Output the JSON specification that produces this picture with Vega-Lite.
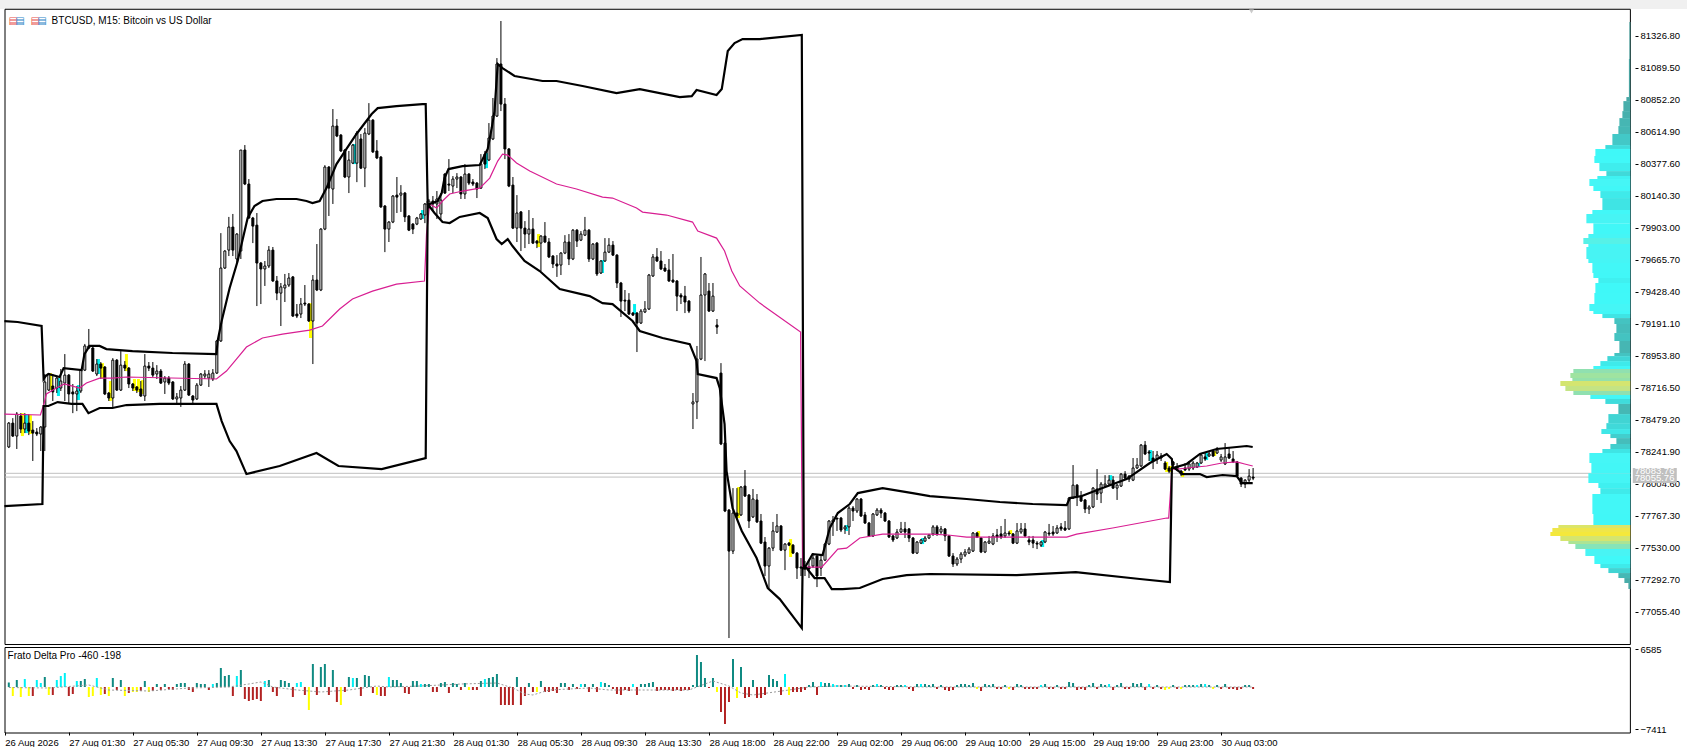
{"$schema":"https://vega.github.io/schema/vega-lite/v6.json","background":"#f0f0f0","width":1687,"height":747,"autosize":{"type":"fit","contains":"padding"},"padding":{"left":0,"top":8,"right":-5,"bottom":0},"config":{"view":{"stroke":null,"fill":"#ffffff"},"axis":{"labelFont":"Liberation Sans","labelFontSize":9.5,"labelColor":"#000000","tickColor":"#000000","title":null,"grid":false,"domain":false}},
"datasets":{
"candles":[
{"i":0,"o":78279,"h":78464,"l":78271,"c":78456},{"i":1,"o":78456,"h":78493,"l":78353,"c":78360},{"i":2,"o":78360,"h":78538,"l":78264,"c":78523},{"i":3,"o":78508,"h":78530,"l":78382,"c":78412},{"i":4,"o":78412,"h":78530,"l":78382,"c":78456},{"i":5,"o":78456,"h":78523,"l":78367,"c":78397},{"i":6,"o":78404,"h":78471,"l":78175,"c":78382},{"i":7,"o":78390,"h":78419,"l":78360,"c":78375},{"i":8,"o":78375,"h":78434,"l":78249,"c":78427},{"i":9,"o":78427,"h":78820,"l":78249,"c":78761},
{"i":10,"o":78701,"h":78827,"l":78694,"c":78820},{"i":11,"o":78731,"h":78820,"l":78620,"c":78687},{"i":12,"o":78716,"h":78798,"l":78679,"c":78790},{"i":13,"o":78716,"h":78857,"l":78694,"c":78768},{"i":14,"o":78753,"h":78968,"l":78620,"c":78812},{"i":15,"o":78812,"h":78820,"l":78605,"c":78672},{"i":16,"o":78687,"h":78746,"l":78530,"c":78672},{"i":17,"o":78672,"h":78731,"l":78545,"c":78694},{"i":18,"o":78694,"h":78857,"l":78679,"c":78849},{"i":19,"o":78849,"h":79043,"l":78842,"c":79028},
{"i":20,"o":79013,"h":79154,"l":79006,"c":79028},{"i":21,"o":79013,"h":79028,"l":78835,"c":78842},{"i":22,"o":78820,"h":78931,"l":78805,"c":78894},{"i":23,"o":78894,"h":78909,"l":78783,"c":78864},{"i":24,"o":78872,"h":78879,"l":78664,"c":78672},{"i":25,"o":78679,"h":78687,"l":78620,"c":78642},{"i":26,"o":78642,"h":78938,"l":78576,"c":78923},{"i":27,"o":78923,"h":78931,"l":78694,"c":78701},{"i":28,"o":78701,"h":78990,"l":78694,"c":78886},{"i":29,"o":78886,"h":78916,"l":78842,"c":78864},
{"i":30,"o":78864,"h":78872,"l":78716,"c":78746},{"i":31,"o":78746,"h":78753,"l":78694,"c":78716},{"i":32,"o":78724,"h":78731,"l":78679,"c":78701},{"i":33,"o":78709,"h":78768,"l":78650,"c":78657},{"i":34,"o":78657,"h":78968,"l":78620,"c":78879},{"i":35,"o":78879,"h":78909,"l":78842,"c":78864},{"i":36,"o":78864,"h":78909,"l":78798,"c":78812},{"i":37,"o":78820,"h":78886,"l":78783,"c":78842},{"i":38,"o":78842,"h":78857,"l":78746,"c":78753},{"i":39,"o":78761,"h":78805,"l":78672,"c":78790},
{"i":40,"o":78790,"h":78805,"l":78738,"c":78753},{"i":41,"o":78761,"h":78768,"l":78627,"c":78635},{"i":42,"o":78635,"h":78679,"l":78598,"c":78650},{"i":43,"o":78642,"h":78731,"l":78576,"c":78701},{"i":44,"o":78701,"h":78916,"l":78694,"c":78894},{"i":45,"o":78894,"h":78901,"l":78657,"c":78664},{"i":46,"o":78657,"h":78664,"l":78590,"c":78627},{"i":47,"o":78635,"h":78753,"l":78627,"c":78738},{"i":48,"o":78738,"h":78827,"l":78731,"c":78820},{"i":49,"o":78805,"h":78849,"l":78783,"c":78820},
{"i":50,"o":78790,"h":78849,"l":78724,"c":78820},{"i":51,"o":78783,"h":78857,"l":78768,"c":78827},{"i":52,"o":78827,"h":79072,"l":78820,"c":79065},{"i":53,"o":79065,"h":79865,"l":79058,"c":79606},{"i":54,"o":79606,"h":79739,"l":79599,"c":79732},{"i":55,"o":79739,"h":79985,"l":79695,"c":79910},{"i":56,"o":79910,"h":80007,"l":79695,"c":79739},{"i":57,"o":79673,"h":79865,"l":79643,"c":79858},{"i":58,"o":79732,"h":80481,"l":79673,"c":80481},{"i":59,"o":80481,"h":80518,"l":80221,"c":80229},
{"i":60,"o":80229,"h":80266,"l":79970,"c":79977},{"i":61,"o":79977,"h":79985,"l":79791,"c":79917},{"i":62,"o":79924,"h":80014,"l":79324,"c":79643},{"i":63,"o":79643,"h":79651,"l":79339,"c":79599},{"i":64,"o":79599,"h":79658,"l":79473,"c":79621},{"i":65,"o":79621,"h":79769,"l":79606,"c":79739},{"i":66,"o":79739,"h":79762,"l":79503,"c":79510},{"i":67,"o":79510,"h":79547,"l":79368,"c":79420},{"i":68,"o":79420,"h":79495,"l":79176,"c":79466},{"i":69,"o":79458,"h":79562,"l":79354,"c":79480},
{"i":70,"o":79480,"h":79569,"l":79466,"c":79532},{"i":71,"o":79540,"h":79547,"l":79243,"c":79250},{"i":72,"o":79265,"h":79339,"l":79235,"c":79250},{"i":73,"o":79265,"h":79384,"l":79235,"c":79339},{"i":74,"o":79346,"h":79480,"l":79324,"c":79339},{"i":75,"o":79339,"h":79346,"l":79206,"c":79213},{"i":76,"o":79213,"h":79554,"l":78894,"c":79517},{"i":77,"o":79517,"h":79784,"l":79435,"c":79443},{"i":78,"o":79443,"h":79902,"l":79435,"c":79895},{"i":79,"o":79895,"h":80369,"l":79887,"c":80355},
{"i":80,"o":80355,"h":80362,"l":79992,"c":80199},{"i":81,"o":80192,"h":80785,"l":80081,"c":80659},{"i":82,"o":80659,"h":80711,"l":80577,"c":80585},{"i":83,"o":80592,"h":80600,"l":80467,"c":80474},{"i":84,"o":80481,"h":80489,"l":80273,"c":80281},{"i":85,"o":80281,"h":80474,"l":80162,"c":80407},{"i":86,"o":80384,"h":80526,"l":80377,"c":80518},{"i":87,"o":80384,"h":80622,"l":80243,"c":80607},{"i":88,"o":80563,"h":80600,"l":80340,"c":80347},{"i":89,"o":80347,"h":80644,"l":80206,"c":80607},
{"i":90,"o":80600,"h":80829,"l":80592,"c":80703},{"i":91,"o":80703,"h":80711,"l":80459,"c":80467},{"i":92,"o":80474,"h":80555,"l":80414,"c":80422},{"i":93,"o":80429,"h":80437,"l":80052,"c":80059},{"i":94,"o":80066,"h":80073,"l":79724,"c":79895},{"i":95,"o":79895,"h":79954,"l":79799,"c":79947},{"i":96,"o":79947,"h":80147,"l":79939,"c":80140},{"i":97,"o":80147,"h":80281,"l":80014,"c":80132},{"i":98,"o":80147,"h":80221,"l":80022,"c":80162},{"i":99,"o":80162,"h":80170,"l":79947,"c":79985},
{"i":100,"o":79992,"h":79999,"l":79880,"c":79887},{"i":101,"o":79932,"h":79939,"l":79858,"c":79895},{"i":102,"o":79932,"h":79985,"l":79924,"c":79977},{"i":103,"o":79970,"h":80014,"l":79962,"c":80007},{"i":104,"o":79999,"h":80088,"l":79939,"c":80081},{"i":105,"o":80059,"h":80118,"l":80044,"c":80103},{"i":106,"o":80103,"h":80140,"l":80029,"c":80081},{"i":107,"o":80081,"h":80177,"l":79970,"c":80118},{"i":108,"o":80007,"h":80162,"l":79970,"c":80110},{"i":109,"o":80303,"h":80310,"l":80155,"c":80162},
{"i":110,"o":80229,"h":80414,"l":80177,"c":80221},{"i":111,"o":80214,"h":80288,"l":80162,"c":80266},{"i":112,"o":80266,"h":80310,"l":80199,"c":80281},{"i":113,"o":80281,"h":80288,"l":80118,"c":80155},{"i":114,"o":80155,"h":80377,"l":80118,"c":80303},{"i":115,"o":80303,"h":80310,"l":80221,"c":80236},{"i":116,"o":80244,"h":80266,"l":80214,"c":80229},{"i":117,"o":80236,"h":80244,"l":80125,"c":80192},{"i":118,"o":80199,"h":80451,"l":80192,"c":80377},{"i":119,"o":80451,"h":80474,"l":80340,"c":80377},
{"i":120,"o":80407,"h":80681,"l":80399,"c":80570},{"i":121,"o":80563,"h":80867,"l":80555,"c":80733},{"i":122,"o":80733,"h":81163,"l":80726,"c":81119},{"i":123,"o":81119,"h":81438,"l":80770,"c":80822},{"i":124,"o":80822,"h":80867,"l":80414,"c":80489},{"i":125,"o":80489,"h":80496,"l":80206,"c":80214},{"i":126,"o":80221,"h":80281,"l":79895,"c":79902},{"i":127,"o":79902,"h":80147,"l":79799,"c":80014},{"i":128,"o":80022,"h":80029,"l":79732,"c":79902},{"i":129,"o":79902,"h":79954,"l":79754,"c":79858},
{"i":130,"o":79858,"h":80036,"l":79784,"c":79895},{"i":131,"o":79895,"h":79977,"l":79784,"c":79791},{"i":132,"o":79806,"h":79813,"l":79754,"c":79791},{"i":133,"o":79791,"h":79850,"l":79584,"c":79843},{"i":134,"o":79843,"h":79947,"l":79791,"c":79799},{"i":135,"o":79799,"h":79828,"l":79680,"c":79688},{"i":136,"o":79695,"h":79702,"l":79606,"c":79636},{"i":137,"o":79636,"h":79702,"l":79540,"c":79621},{"i":138,"o":79628,"h":79724,"l":79554,"c":79717},{"i":139,"o":79717,"h":79850,"l":79709,"c":79799},
{"i":140,"o":79799,"h":79858,"l":79628,"c":79673},{"i":141,"o":79673,"h":79895,"l":79665,"c":79887},{"i":142,"o":79887,"h":79895,"l":79762,"c":79806},{"i":143,"o":79813,"h":79880,"l":79806,"c":79858},{"i":144,"o":79850,"h":79985,"l":79843,"c":79887},{"i":145,"o":79887,"h":79895,"l":79651,"c":79673},{"i":146,"o":79673,"h":79791,"l":79665,"c":79784},{"i":147,"o":79791,"h":79799,"l":79547,"c":79562},{"i":148,"o":79569,"h":79665,"l":79562,"c":79658},{"i":149,"o":79658,"h":79828,"l":79651,"c":79724},
{"i":150,"o":79724,"h":79828,"l":79717,"c":79776},{"i":151,"o":79776,"h":79806,"l":79695,"c":79702},{"i":152,"o":79702,"h":79709,"l":79458,"c":79495},{"i":153,"o":79495,"h":79503,"l":79243,"c":79361},{"i":154,"o":79368,"h":79443,"l":79287,"c":79361},{"i":155,"o":79368,"h":79420,"l":79257,"c":79265},{"i":156,"o":79272,"h":79280,"l":79250,"c":79257},{"i":157,"o":79272,"h":79280,"l":78983,"c":79198},{"i":158,"o":79198,"h":79302,"l":79191,"c":79287},{"i":159,"o":79280,"h":79361,"l":79272,"c":79302},
{"i":160,"o":79302,"h":79562,"l":79295,"c":79554},{"i":161,"o":79547,"h":79710,"l":79540,"c":79688},{"i":162,"o":79688,"h":79754,"l":79651,"c":79658},{"i":163,"o":79658,"h":79732,"l":79591,"c":79599},{"i":164,"o":79606,"h":79636,"l":79577,"c":79584},{"i":165,"o":79591,"h":79673,"l":79503,"c":79510},{"i":166,"o":79517,"h":79710,"l":79495,"c":79503},{"i":167,"o":79510,"h":79517,"l":79287,"c":79398},{"i":168,"o":79405,"h":79420,"l":79339,"c":79391},{"i":169,"o":79398,"h":79473,"l":79272,"c":79354},
{"i":170,"o":79361,"h":79368,"l":79272,"c":79287},{"i":171,"o":78598,"h":78679,"l":78412,"c":78613},{"i":172,"o":78613,"h":79028,"l":78486,"c":78931},{"i":173,"o":78931,"h":79688,"l":78923,"c":79406},{"i":174,"o":79406,"h":79569,"l":78916,"c":79562},{"i":175,"o":79435,"h":79495,"l":79280,"c":79287},{"i":176,"o":79287,"h":79495,"l":79280,"c":79398},{"i":177,"o":79183,"h":79228,"l":79117,"c":79168},{"i":178,"o":78827,"h":78901,"l":78293,"c":78301},{"i":179,"o":78308,"h":78316,"l":77796,"c":77804},
{"i":180,"o":77811,"h":77819,"l":76862,"c":77507},{"i":181,"o":77507,"h":77974,"l":77485,"c":77789},{"i":182,"o":77789,"h":77974,"l":77745,"c":77767},{"i":183,"o":77775,"h":77989,"l":77767,"c":77982},{"i":184,"o":77989,"h":78108,"l":77908,"c":77915},{"i":185,"o":77923,"h":77930,"l":77678,"c":77730},{"i":186,"o":77760,"h":77967,"l":77752,"c":77893},{"i":187,"o":77886,"h":77930,"l":77715,"c":77723},{"i":188,"o":77730,"h":77782,"l":77559,"c":77566},{"i":189,"o":77574,"h":77611,"l":77322,"c":77396},
{"i":190,"o":77396,"h":77537,"l":77233,"c":77529},{"i":191,"o":77529,"h":77723,"l":77507,"c":77656},{"i":192,"o":77648,"h":77782,"l":77641,"c":77693},{"i":193,"o":77693,"h":77700,"l":77507,"c":77514},{"i":194,"o":77514,"h":77566,"l":77366,"c":77559},{"i":195,"o":77566,"h":77574,"l":77544,"c":77551},{"i":196,"o":77551,"h":77559,"l":77485,"c":77492},{"i":197,"o":77492,"h":77500,"l":77300,"c":77381},{"i":198,"o":77389,"h":77455,"l":77322,"c":77381},{"i":199,"o":77389,"h":77433,"l":77322,"c":77374},
{"i":200,"o":77389,"h":77433,"l":77307,"c":77374},{"i":201,"o":77396,"h":77492,"l":77381,"c":77455},{"i":202,"o":77470,"h":77477,"l":77240,"c":77322},{"i":203,"o":77381,"h":77477,"l":77322,"c":77440},{"i":204,"o":77440,"h":77566,"l":77433,"c":77559},{"i":205,"o":77559,"h":77737,"l":77551,"c":77730},{"i":206,"o":77723,"h":77767,"l":77619,"c":77737},{"i":207,"o":77752,"h":77752,"l":77656,"c":77745},{"i":208,"o":77752,"h":77760,"l":77648,"c":77663},{"i":209,"o":77671,"h":77700,"l":77634,"c":77686},
{"i":210,"o":77686,"h":77841,"l":77626,"c":77826},{"i":211,"o":77826,"h":77841,"l":77730,"c":77804},{"i":212,"o":77804,"h":77900,"l":77789,"c":77893},{"i":213,"o":77893,"h":77900,"l":77760,"c":77767},{"i":214,"o":77775,"h":77797,"l":77708,"c":77715},{"i":215,"o":77715,"h":77723,"l":77611,"c":77619},{"i":216,"o":77619,"h":77789,"l":77611,"c":77782},{"i":217,"o":77775,"h":77826,"l":77767,"c":77811},{"i":218,"o":77811,"h":77826,"l":77752,"c":77789},{"i":219,"o":77789,"h":77797,"l":77723,"c":77730},
{"i":220,"o":77730,"h":77737,"l":77604,"c":77611},{"i":221,"o":77619,"h":77626,"l":77574,"c":77589},{"i":222,"o":77604,"h":77671,"l":77596,"c":77648},{"i":223,"o":77648,"h":77723,"l":77641,"c":77671},{"i":224,"o":77671,"h":77723,"l":77604,"c":77648},{"i":225,"o":77671,"h":77678,"l":77574,"c":77604},{"i":226,"o":77604,"h":77611,"l":77485,"c":77492},{"i":227,"o":77492,"h":77581,"l":77485,"c":77574},{"i":228,"o":77566,"h":77596,"l":77559,"c":77589},{"i":229,"o":77581,"h":77619,"l":77574,"c":77604},
{"i":230,"o":77604,"h":77634,"l":77596,"c":77626},{"i":231,"o":77634,"h":77700,"l":77619,"c":77686},{"i":232,"o":77686,"h":77700,"l":77619,"c":77634},{"i":233,"o":77648,"h":77693,"l":77634,"c":77671},{"i":234,"o":77671,"h":77678,"l":77581,"c":77619},{"i":235,"o":77619,"h":77626,"l":77463,"c":77470},{"i":236,"o":77470,"h":77492,"l":77389,"c":77411},{"i":237,"o":77411,"h":77463,"l":77396,"c":77448},{"i":238,"o":77448,"h":77500,"l":77418,"c":77485},{"i":239,"o":77477,"h":77522,"l":77463,"c":77500},
{"i":240,"o":77492,"h":77537,"l":77485,"c":77522},{"i":241,"o":77507,"h":77648,"l":77500,"c":77641},{"i":242,"o":77641,"h":77648,"l":77604,"c":77611},{"i":243,"o":77604,"h":77611,"l":77492,"c":77500},{"i":244,"o":77500,"h":77581,"l":77492,"c":77574},{"i":245,"o":77566,"h":77619,"l":77559,"c":77581},{"i":246,"o":77559,"h":77641,"l":77551,"c":77619},{"i":247,"o":77626,"h":77671,"l":77574,"c":77611},{"i":248,"o":77634,"h":77693,"l":77596,"c":77611},{"i":249,"o":77619,"h":77745,"l":77604,"c":77641},
{"i":250,"o":77641,"h":77656,"l":77619,"c":77634},{"i":251,"o":77634,"h":77641,"l":77559,"c":77566},{"i":252,"o":77566,"h":77715,"l":77559,"c":77656},{"i":253,"o":77648,"h":77715,"l":77634,"c":77671},{"i":254,"o":77671,"h":77715,"l":77611,"c":77619},{"i":255,"o":77589,"h":77619,"l":77551,"c":77574},{"i":256,"o":77589,"h":77619,"l":77529,"c":77566},{"i":257,"o":77566,"h":77581,"l":77522,"c":77559},{"i":258,"o":77551,"h":77581,"l":77537,"c":77574},{"i":259,"o":77574,"h":77656,"l":77566,"c":77648},
{"i":260,"o":77641,"h":77708,"l":77619,"c":77634},{"i":261,"o":77648,"h":77693,"l":77619,"c":77634},{"i":262,"o":77641,"h":77700,"l":77634,"c":77678},{"i":263,"o":77686,"h":77715,"l":77656,"c":77671},{"i":264,"o":77678,"h":77730,"l":77656,"c":77663},{"i":265,"o":77671,"h":77908,"l":77663,"c":77900},{"i":266,"o":77900,"h":78145,"l":77893,"c":77996},{"i":267,"o":77996,"h":78004,"l":77841,"c":77915},{"i":268,"o":77915,"h":77952,"l":77871,"c":77878},{"i":269,"o":77886,"h":77893,"l":77789,"c":77819},
{"i":270,"o":77819,"h":77848,"l":77782,"c":77834},{"i":271,"o":77834,"h":77982,"l":77826,"c":77974},{"i":272,"o":77967,"h":78115,"l":77886,"c":77930},{"i":273,"o":77937,"h":78019,"l":77863,"c":78004},{"i":274,"o":77989,"h":78070,"l":77982,"c":78004},{"i":275,"o":78004,"h":78070,"l":77996,"c":78033},{"i":276,"o":78033,"h":78063,"l":77967,"c":77974},{"i":277,"o":77974,"h":78004,"l":77886,"c":77996},{"i":278,"o":77989,"h":78085,"l":77982,"c":78078},{"i":279,"o":78078,"h":78100,"l":78041,"c":78048},
{"i":280,"o":78063,"h":78070,"l":78019,"c":78041},{"i":281,"o":78033,"h":78197,"l":78026,"c":78123},{"i":282,"o":78123,"h":78197,"l":78115,"c":78145},{"i":283,"o":78138,"h":78301,"l":78130,"c":78293},{"i":284,"o":78293,"h":78323,"l":78219,"c":78227},{"i":285,"o":78242,"h":78256,"l":78175,"c":78234},{"i":286,"o":78197,"h":78249,"l":78115,"c":78175},{"i":287,"o":78190,"h":78249,"l":78153,"c":78219},{"i":288,"o":78212,"h":78234,"l":78175,"c":78197},{"i":289,"o":78160,"h":78175,"l":78108,"c":78115},
{"i":290,"o":78123,"h":78138,"l":78085,"c":78100},{"i":291,"o":78168,"h":78175,"l":78131,"c":78145},{"i":292,"o":78131,"h":78160,"l":78100,"c":78115},{"i":293,"o":78100,"h":78108,"l":78063,"c":78078},{"i":294,"o":78123,"h":78160,"l":78100,"c":78108},{"i":295,"o":78115,"h":78175,"l":78100,"c":78153},{"i":296,"o":78123,"h":78175,"l":78108,"c":78160},{"i":297,"o":78130,"h":78168,"l":78123,"c":78160},{"i":298,"o":78160,"h":78227,"l":78153,"c":78219},{"i":299,"o":78205,"h":78234,"l":78175,"c":78190},
{"i":300,"o":78212,"h":78249,"l":78205,"c":78227},{"i":301,"o":78249,"h":78256,"l":78205,"c":78212},{"i":302,"o":78234,"h":78279,"l":78227,"c":78256},{"i":303,"o":78182,"h":78227,"l":78168,"c":78205},{"i":304,"o":78153,"h":78308,"l":78145,"c":78205},{"i":305,"o":78227,"h":78271,"l":78190,"c":78197},{"i":306,"o":78190,"h":78249,"l":78160,"c":78168},{"i":307,"o":78168,"h":78175,"l":78056,"c":78063},{"i":308,"o":78048,"h":78056,"l":77982,"c":78004},{"i":309,"o":78004,"h":78041,"l":77974,"c":78033},{"i":310,"o":78033,"h":78115,"l":78019,"c":78063},{"i":311,"o":78056,"h":78123,"l":78033,"c":78048}],
"highlights":[
{"i":3.4,"top":78530,"bot":78360,"k":"y"},{"i":5.4,"top":78515,"bot":78375,"k":"y"},{"i":10.4,"top":78827,"bot":78701,"k":"y"},{"i":23.4,"top":78901,"bot":78790,"k":"y"},{"i":25.4,"top":78768,"bot":78620,"k":"y"},{"i":29.4,"top":78968,"bot":78842,"k":"y"},{"i":31.4,"top":78783,"bot":78694,"k":"y"},{"i":32.4,"top":78783,"bot":78687,"k":"y"},{"i":33.4,"top":78775,"bot":78672,"k":"y"},{"i":75.4,"top":79346,"bot":79087,"k":"y"},{"i":132.4,"top":79858,"bot":79762,"k":"y"},{"i":182.4,"top":77982,"bot":77752,"k":"y"},{"i":195.4,"top":77596,"bot":77463,"k":"y"},{"i":242.4,"top":77656,"bot":77611,"k":"y"},{"i":250.4,"top":77663,"bot":77634,"k":"y"},{"i":289.4,"top":78168,"bot":78093,"k":"y"},{"i":290.4,"top":78138,"bot":78093,"k":"y"},{"i":293.4,"top":78100,"bot":78056,"k":"y"},{"i":301.4,"top":78249,"bot":78212,"k":"y"},
{"i":4.4,"top":78523,"bot":78382,"k":"c"},{"i":12.4,"top":78790,"bot":78657,"k":"c"},{"i":17.4,"top":78738,"bot":78627,"k":"c"},{"i":22.4,"top":78931,"bot":78820,"k":"c"},{"i":86.4,"top":80526,"bot":80377,"k":"c"},{"i":103.4,"top":80036,"bot":79970,"k":"c"},{"i":119.4,"top":80459,"bot":80347,"k":"c"},{"i":148.4,"top":79665,"bot":79569,"k":"c"},{"i":156.4,"top":79339,"bot":79265,"k":"c"},{"i":209.4,"top":77700,"bot":77656,"k":"c"},{"i":228.4,"top":77604,"bot":77559,"k":"c"},{"i":258.4,"top":77589,"bot":77537,"k":"c"},{"i":275.4,"top":78070,"bot":78033,"k":"c"},{"i":285.4,"top":78256,"bot":78175,"k":"c"},{"i":297.4,"top":78160,"bot":78130,"k":"c"},{"i":299.4,"top":78234,"bot":78182,"k":"c"}],
"bands":[
{"s":"upper","i":-1.1,"p":79213},{"s":"upper","i":2.2,"p":79206},{"s":"upper","i":8.2,"p":79176},{"s":"upper","i":8.7,"p":78783},{"s":"upper","i":9.2,"p":78805},{"s":"upper","i":9.9,"p":78820},{"s":"upper","i":12.7,"p":78798},{"s":"upper","i":13.7,"p":78864},{"s":"upper","i":18.2,"p":78849},{"s":"upper","i":18.9,"p":78968},{"s":"upper","i":20.2,"p":79028},{"s":"upper","i":22.7,"p":79028},{"s":"upper","i":24.4,"p":79005},{"s":"upper","i":30.9,"p":78990},{"s":"upper","i":40.9,"p":78976},{"s":"upper","i":51.9,"p":78968},{"s":"upper","i":52.2,"p":79065},{"s":"upper","i":53.2,"p":79213},{"s":"upper","i":55.2,"p":79458},{"s":"upper","i":57.2,"p":79658},{"s":"upper","i":59.7,"p":79977},{"s":"upper","i":61.4,"p":80066},{"s":"upper","i":63.4,"p":80103},{"s":"upper","i":66.9,"p":80118},{"s":"upper","i":71.9,"p":80118},{"s":"upper","i":74.4,"p":80103},{"s":"upper","i":75.9,"p":80088},{"s":"upper","i":77.7,"p":80103},{"s":"upper","i":79.4,"p":80199},{"s":"upper","i":81.9,"p":80377},{"s":"upper","i":84.4,"p":80489},{"s":"upper","i":86.9,"p":80600},{"s":"upper","i":90.7,"p":80748},{"s":"upper","i":92.2,"p":80792},{"s":"upper","i":96.9,"p":80807},{"s":"upper","i":103.4,"p":80822},{"s":"upper","i":104.2,"p":80822},{"s":"upper","i":104.7,"p":80081},{"s":"upper","i":105.2,"p":80081},{"s":"upper","i":107.2,"p":80103},{"s":"upper","i":108.2,"p":80162},{"s":"upper","i":108.9,"p":80273},{"s":"upper","i":109.9,"p":80340},{"s":"upper","i":113.4,"p":80362},{"s":"upper","i":117.7,"p":80370},{"s":"upper","i":119.7,"p":80489},{"s":"upper","i":120.7,"p":80644},{"s":"upper","i":121.4,"p":80770},{"s":"upper","i":122.2,"p":81119},{"s":"upper","i":123.4,"p":81089},{"s":"upper","i":126.4,"p":81030},{"s":"upper","i":133.4,"p":80993},{"s":"upper","i":136.9,"p":80993},{"s":"upper","i":143.4,"p":80956},{"s":"upper","i":151.9,"p":80904},{"s":"upper","i":157.7,"p":80933},{"s":"upper","i":167.7,"p":80874},{"s":"upper","i":170.7,"p":80881},{"s":"upper","i":171.9,"p":80926},{"s":"upper","i":176.9,"p":80889},{"s":"upper","i":178.2,"p":80933},{"s":"upper","i":179.7,"p":81215},{"s":"upper","i":181.4,"p":81274},{"s":"upper","i":183.4,"p":81304},{"s":"upper","i":187.7,"p":81304},{"s":"upper","i":198.2,"p":81334},{"s":"upper","i":198.7,"p":77381},{"s":"upper","i":198.9,"p":77381},{"s":"upper","i":200.9,"p":77485},{"s":"upper","i":203.4,"p":77478},{"s":"upper","i":205.2,"p":77678},{"s":"upper","i":207.2,"p":77789},{"s":"upper","i":210.2,"p":77856},{"s":"upper","i":212.2,"p":77937},{"s":"upper","i":218.4,"p":77974},{"s":"upper","i":225.9,"p":77937},{"s":"upper","i":230.2,"p":77915},{"s":"upper","i":239.4,"p":77893},{"s":"upper","i":247.7,"p":77871},{"s":"upper","i":255.9,"p":77856},{"s":"upper","i":264.4,"p":77848},{"s":"upper","i":265.2,"p":77900},{"s":"upper","i":268.2,"p":77915},{"s":"upper","i":272.7,"p":77967},{"s":"upper","i":279.4,"p":78041},{"s":"upper","i":285.2,"p":78160},{"s":"upper","i":289.4,"p":78227},{"s":"upper","i":290.7,"p":78190},{"s":"upper","i":290.9,"p":78123},{"s":"upper","i":294.4,"p":78153},{"s":"upper","i":297.7,"p":78227},{"s":"upper","i":301.9,"p":78264},{"s":"upper","i":309.4,"p":78286},{"s":"upper","i":310.9,"p":78279},
{"s":"lower","i":-1.1,"p":77841},{"s":"lower","i":8.4,"p":77856},{"s":"lower","i":8.7,"p":78583},{"s":"lower","i":9.9,"p":78583},{"s":"lower","i":12.2,"p":78612},{"s":"lower","i":15.7,"p":78598},{"s":"lower","i":18.4,"p":78598},{"s":"lower","i":19.9,"p":78530},{"s":"lower","i":22.7,"p":78568},{"s":"lower","i":25.9,"p":78568},{"s":"lower","i":29.4,"p":78590},{"s":"lower","i":37.7,"p":78598},{"s":"lower","i":51.9,"p":78598},{"s":"lower","i":53.2,"p":78471},{"s":"lower","i":55.2,"p":78323},{"s":"lower","i":56.9,"p":78249},{"s":"lower","i":59.4,"p":78078},{"s":"lower","i":67.7,"p":78138},{"s":"lower","i":76.9,"p":78234},{"s":"lower","i":82.4,"p":78138},{"s":"lower","i":93.2,"p":78115},{"s":"lower","i":104.2,"p":78197},{"s":"lower","i":104.7,"p":80081},{"s":"lower","i":106.4,"p":80014},{"s":"lower","i":108.4,"p":79947},{"s":"lower","i":110.2,"p":79940},{"s":"lower","i":112.7,"p":79985},{"s":"lower","i":117.7,"p":80014},{"s":"lower","i":119.7,"p":79977},{"s":"lower","i":121.9,"p":79821},{"s":"lower","i":123.2,"p":79784},{"s":"lower","i":124.7,"p":79821},{"s":"lower","i":125.9,"p":79769},{"s":"lower","i":128.9,"p":79658},{"s":"lower","i":132.7,"p":79584},{"s":"lower","i":137.7,"p":79450},{"s":"lower","i":145.2,"p":79398},{"s":"lower","i":148.4,"p":79346},{"s":"lower","i":150.9,"p":79339},{"s":"lower","i":155.9,"p":79213},{"s":"lower","i":157.7,"p":79139},{"s":"lower","i":163.4,"p":79087},{"s":"lower","i":170.2,"p":79042},{"s":"lower","i":171.9,"p":78916},{"s":"lower","i":172.2,"p":78820},{"s":"lower","i":176.9,"p":78790},{"s":"lower","i":177.7,"p":78716},{"s":"lower","i":178.9,"p":78449},{"s":"lower","i":179.4,"p":78100},{"s":"lower","i":180.9,"p":77826},{"s":"lower","i":183.2,"p":77656},{"s":"lower","i":186.9,"p":77455},{"s":"lower","i":189.7,"p":77233},{"s":"lower","i":192.7,"p":77151},{"s":"lower","i":198.2,"p":76936},{"s":"lower","i":198.4,"p":77381},{"s":"lower","i":199.4,"p":77381},{"s":"lower","i":201.4,"p":77307},{"s":"lower","i":203.9,"p":77307},{"s":"lower","i":205.7,"p":77225},{"s":"lower","i":208.4,"p":77225},{"s":"lower","i":212.7,"p":77233},{"s":"lower","i":218.4,"p":77300},{"s":"lower","i":224.4,"p":77329},{"s":"lower","i":230.2,"p":77337},{"s":"lower","i":251.9,"p":77329},{"s":"lower","i":266.7,"p":77351},{"s":"lower","i":282.7,"p":77300},{"s":"lower","i":290.2,"p":77277},{"s":"lower","i":290.7,"p":78123},{"s":"lower","i":291.4,"p":78123},{"s":"lower","i":293.4,"p":78078},{"s":"lower","i":297.7,"p":78078},{"s":"lower","i":299.4,"p":78056},{"s":"lower","i":303.4,"p":78071},{"s":"lower","i":306.9,"p":78063},{"s":"lower","i":308.2,"p":78011},{"s":"lower","i":310.9,"p":78011},
{"s":"mid","i":-1.1,"p":78523},{"s":"mid","i":7.9,"p":78516},{"s":"mid","i":8.7,"p":78590},{"s":"mid","i":9.4,"p":78672},{"s":"mid","i":11.9,"p":78716},{"s":"mid","i":13.9,"p":78746},{"s":"mid","i":17.7,"p":78716},{"s":"mid","i":19.4,"p":78753},{"s":"mid","i":22.7,"p":78790},{"s":"mid","i":25.9,"p":78790},{"s":"mid","i":29.4,"p":78798},{"s":"mid","i":51.9,"p":78783},{"s":"mid","i":54.4,"p":78842},{"s":"mid","i":56.9,"p":78931},{"s":"mid","i":59.4,"p":79020},{"s":"mid","i":63.4,"p":79087},{"s":"mid","i":68.4,"p":79116},{"s":"mid","i":75.2,"p":79146},{"s":"mid","i":78.4,"p":79176},{"s":"mid","i":82.7,"p":79302},{"s":"mid","i":85.9,"p":79376},{"s":"mid","i":90.9,"p":79435},{"s":"mid","i":96.9,"p":79487},{"s":"mid","i":103.9,"p":79510},{"s":"mid","i":104.4,"p":79858},{"s":"mid","i":105.2,"p":80081},{"s":"mid","i":106.9,"p":80051},{"s":"mid","i":108.4,"p":80103},{"s":"mid","i":110.2,"p":80155},{"s":"mid","i":113.4,"p":80177},{"s":"mid","i":117.7,"p":80199},{"s":"mid","i":120.2,"p":80273},{"s":"mid","i":122.2,"p":80399},{"s":"mid","i":123.4,"p":80451},{"s":"mid","i":124.7,"p":80444},{"s":"mid","i":126.9,"p":80385},{"s":"mid","i":130.2,"p":80325},{"s":"mid","i":136.9,"p":80229},{"s":"mid","i":141.9,"p":80192},{"s":"mid","i":148.4,"p":80132},{"s":"mid","i":150.9,"p":80125},{"s":"mid","i":156.9,"p":80051},{"s":"mid","i":158.4,"p":80021},{"s":"mid","i":164.4,"p":79999},{"s":"mid","i":170.9,"p":79947},{"s":"mid","i":172.2,"p":79880},{"s":"mid","i":176.9,"p":79828},{"s":"mid","i":178.9,"p":79732},{"s":"mid","i":180.7,"p":79584},{"s":"mid","i":182.7,"p":79473},{"s":"mid","i":187.7,"p":79346},{"s":"mid","i":197.9,"p":79131},{"s":"mid","i":198.2,"p":78026},{"s":"mid","i":198.4,"p":77388},{"s":"mid","i":203.2,"p":77388},{"s":"mid","i":207.2,"p":77522},{"s":"mid","i":209.4,"p":77529},{"s":"mid","i":212.7,"p":77604},{"s":"mid","i":218.4,"p":77633},{"s":"mid","i":230.2,"p":77633},{"s":"mid","i":234.7,"p":77626},{"s":"mid","i":239.4,"p":77611},{"s":"mid","i":264.4,"p":77611},{"s":"mid","i":266.9,"p":77633},{"s":"mid","i":275.9,"p":77678},{"s":"mid","i":289.4,"p":77752},{"s":"mid","i":289.9,"p":77752},{"s":"mid","i":290.4,"p":77967},{"s":"mid","i":290.7,"p":78115},{"s":"mid","i":292.2,"p":78115},{"s":"mid","i":294.4,"p":78123},{"s":"mid","i":299.4,"p":78138},{"s":"mid","i":303.2,"p":78160},{"s":"mid","i":306.9,"p":78168},{"s":"mid","i":308.9,"p":78153},{"s":"mid","i":310.9,"p":78138}],
"profile":[
{"p0":81430,"p1":81156,"vol":1,"x":405.05},{"p0":81156,"p1":80874,"vol":1.5,"x":404.93},{"p0":80874,"p1":80844,"vol":4,"x":404.3},{"p0":80844,"p1":80770,"vol":7,"x":403.55},{"p0":80770,"p1":80718,"vol":8,"x":403.3},{"p0":80718,"p1":80659,"vol":11,"x":402.55},{"p0":80659,"p1":80600,"vol":12,"x":402.3},{"p0":80600,"p1":80518,"vol":18,"x":400.8},{"p0":80518,"p1":80489,"vol":25,"x":399.05},{"p0":80489,"p1":80437,"vol":35,"x":396.55},{"p0":80437,"p1":80385,"vol":36,"x":396.3},{"p0":80385,"p1":80325,"vol":31,"x":397.55},{"p0":80325,"p1":80288,"vol":24,"x":399.3},{"p0":80288,"p1":80266,"vol":33,"x":397.05},{"p0":80266,"p1":80214,"vol":41,"x":395.05},{"p0":80214,"p1":80177,"vol":37,"x":396.05},{"p0":80177,"p1":80125,"vol":30,"x":397.8},{"p0":80125,"p1":80036,"vol":28,"x":398.3},{"p0":80036,"p1":80007,"vol":38,"x":395.8},{"p0":80007,"p1":79939,"vol":44,"x":394.3},{"p0":79939,"p1":79858,"vol":37,"x":396.05},{"p0":79858,"p1":79828,"vol":42,"x":394.8},{"p0":79828,"p1":79784,"vol":47,"x":393.55},{"p0":79784,"p1":79762,"vol":42,"x":394.8},{"p0":79762,"p1":79673,"vol":44,"x":394.3},{"p0":79673,"p1":79643,"vol":42,"x":394.8},{"p0":79643,"p1":79569,"vol":38,"x":395.8},{"p0":79569,"p1":79532,"vol":37,"x":396.05},{"p0":79532,"p1":79495,"vol":32,"x":397.3},{"p0":79495,"p1":79420,"vol":35,"x":396.55},{"p0":79420,"p1":79339,"vol":36,"x":396.3},{"p0":79339,"p1":79287,"vol":41,"x":395.05},{"p0":79287,"p1":79265,"vol":37,"x":396.05},{"p0":79265,"p1":79235,"vol":28,"x":398.3},{"p0":79235,"p1":79191,"vol":16,"x":401.3},{"p0":79191,"p1":79124,"vol":14,"x":401.8},{"p0":79124,"p1":79065,"vol":16,"x":401.3},{"p0":79065,"p1":78976,"vol":11,"x":402.55},{"p0":78976,"p1":78953,"vol":16,"x":401.3},{"p0":78953,"p1":78916,"vol":23,"x":399.55},{"p0":78916,"p1":78879,"vol":30,"x":397.8},{"p0":78879,"p1":78857,"vol":37,"x":396.05},{"p0":78857,"p1":78827,"vol":57,"x":391.05},{"p0":78827,"p1":78790,"vol":60,"x":390.3},{"p0":78790,"p1":78768,"vol":58,"x":390.8},{"p0":78768,"p1":78731,"vol":70,"x":387.8},{"p0":78731,"p1":78694,"vol":65,"x":389.05},{"p0":78694,"p1":78664,"vol":57,"x":391.05},{"p0":78664,"p1":78635,"vol":40,"x":395.3},{"p0":78635,"p1":78598,"vol":25,"x":399.05},{"p0":78598,"p1":78523,"vol":12,"x":402.3},{"p0":78523,"p1":78456,"vol":22,"x":399.8},{"p0":78456,"p1":78412,"vol":24,"x":399.3},{"p0":78412,"p1":78375,"vol":29,"x":398.05},{"p0":78375,"p1":78345,"vol":20,"x":400.3},{"p0":78345,"p1":78301,"vol":14,"x":401.8},{"p0":78301,"p1":78264,"vol":20,"x":400.3},{"p0":78264,"p1":78234,"vol":28,"x":398.3},{"p0":78234,"p1":78160,"vol":41,"x":395.05},{"p0":78160,"p1":78085,"vol":39,"x":395.55},{"p0":78085,"p1":78011,"vol":42,"x":394.8},{"p0":78011,"p1":77974,"vol":32,"x":397.3},{"p0":77974,"p1":77930,"vol":30,"x":397.8},{"p0":77930,"p1":77782,"vol":38,"x":395.8},{"p0":77782,"p1":77700,"vol":37,"x":396.05},{"p0":77700,"p1":77678,"vol":72,"x":387.3},{"p0":77678,"p1":77648,"vol":78,"x":385.8},{"p0":77648,"p1":77619,"vol":80,"x":385.3},{"p0":77619,"p1":77581,"vol":70,"x":387.8},{"p0":77581,"p1":77559,"vol":62,"x":389.8},{"p0":77559,"p1":77522,"vol":55,"x":391.55},{"p0":77522,"p1":77470,"vol":45,"x":394.05},{"p0":77470,"p1":77411,"vol":36,"x":396.3},{"p0":77411,"p1":77381,"vol":30,"x":397.8},{"p0":77381,"p1":77344,"vol":22,"x":399.8},{"p0":77344,"p1":77307,"vol":12,"x":402.3},{"p0":77307,"p1":77270,"vol":6,"x":403.8},{"p0":77270,"p1":77226,"vol":2,"x":404.8}],
"delta":[
{"i":0,"v":788,"k":"t"},{"i":1,"v":-1575,"k":"y"},{"i":2,"v":1225,"k":"t"},{"i":3,"v":-1750,"k":"y"},{"i":4,"v":1400,"k":"c"},{"i":5,"v":-1575,"k":"y"},{"i":6,"v":-1575,"k":"r"},{"i":7,"v":1225,"k":"c"},{"i":8,"v":700,"k":"c"},{"i":9,"v":1750,"k":"t"},{"i":10,"v":-1400,"k":"y"},{"i":11,"v":-1400,"k":"r"},{"i":12,"v":1225,"k":"c"},{"i":13,"v":1925,"k":"c"},{"i":14,"v":2450,"k":"c"},{"i":15,"v":-1575,"k":"r"},{"i":16,"v":-1225,"k":"r"},{"i":17,"v":1050,"k":"c"},{"i":18,"v":1050,"k":"t"},{"i":19,"v":1400,"k":"t"},{"i":20,"v":-1750,"k":"y"},{"i":21,"v":-1575,"k":"y"},{"i":22,"v":1575,"k":"c"},{"i":23,"v":-1400,"k":"y"},{"i":24,"v":-1225,"k":"r"},{"i":25,"v":-1575,"k":"y"},{"i":26,"v":1575,"k":"t"},{"i":27,"v":-525,"k":"r"},{"i":28,"v":1225,"k":"t"},{"i":29,"v":-1575,"k":"y"},{"i":30,"v":-1050,"k":"r"},{"i":31,"v":-875,"k":"y"},{"i":32,"v":-875,"k":"y"},{"i":33,"v":-700,"k":"r"},{"i":34,"v":1050,"k":"t"},{"i":35,"v":-875,"k":"y"},{"i":36,"v":-700,"k":"r"},{"i":37,"v":525,"k":"t"},{"i":38,"v":-525,"k":"r"},{"i":39,"v":525,"k":"t"},{"i":40,"v":-350,"k":"r"},{"i":41,"v":-525,"k":"r"},{"i":42,"v":525,"k":"t"},{"i":43,"v":700,"k":"t"},{"i":44,"v":700,"k":"t"},{"i":45,"v":-525,"k":"r"},{"i":46,"v":-875,"k":"r"},{"i":47,"v":700,"k":"t"},{"i":48,"v":525,"k":"t"},{"i":49,"v":525,"k":"t"},{"i":50,"v":-525,"k":"r"},{"i":51,"v":525,"k":"c"},{"i":52,"v":700,"k":"t"},{"i":53,"v":3325,"k":"t"},{"i":54,"v":1925,"k":"t"},{"i":55,"v":2100,"k":"t"},{"i":56,"v":-1575,"k":"r"},{"i":57,"v":1925,"k":"c"},{"i":58,"v":2975,"k":"t"},{"i":59,"v":-2100,"k":"r"},{"i":60,"v":-2450,"k":"r"},{"i":61,"v":-2275,"k":"r"},{"i":62,"v":-2100,"k":"r"},{"i":63,"v":-2450,"k":"r"},{"i":64,"v":1050,"k":"c"},{"i":65,"v":1225,"k":"t"},{"i":66,"v":-875,"k":"r"},{"i":67,"v":-1575,"k":"r"},{"i":68,"v":1225,"k":"t"},{"i":69,"v":1050,"k":"t"},{"i":70,"v":700,"k":"t"},{"i":71,"v":-1750,"k":"r"},{"i":72,"v":700,"k":"c"},{"i":73,"v":875,"k":"c"},{"i":74,"v":-1400,"k":"r"},{"i":75,"v":-4025,"k":"y"},{"i":76,"v":4025,"k":"t"},{"i":77,"v":-1400,"k":"r"},{"i":78,"v":3500,"k":"t"},{"i":79,"v":4025,"k":"t"},{"i":80,"v":-1400,"k":"r"},{"i":81,"v":2975,"k":"t"},{"i":82,"v":-2625,"k":"r"},{"i":83,"v":-3150,"k":"y"},{"i":84,"v":-875,"k":"r"},{"i":85,"v":1750,"k":"t"},{"i":86,"v":1575,"k":"c"},{"i":87,"v":1575,"k":"t"},{"i":88,"v":-1575,"k":"r"},{"i":89,"v":2100,"k":"t"},{"i":90,"v":1925,"k":"t"},{"i":91,"v":-1050,"k":"r"},{"i":92,"v":-1400,"k":"y"},{"i":93,"v":-1575,"k":"r"},{"i":94,"v":-1575,"k":"r"},{"i":95,"v":1750,"k":"c"},{"i":96,"v":1225,"k":"t"},{"i":97,"v":1225,"k":"t"},{"i":98,"v":700,"k":"t"},{"i":99,"v":-1050,"k":"r"},{"i":100,"v":-1225,"k":"r"},{"i":101,"v":1050,"k":"t"},{"i":102,"v":1050,"k":"t"},
{"i":103,"v":525,"k":"c"},{"i":104,"v":525,"k":"t"},{"i":105,"v":525,"k":"t"},{"i":106,"v":-875,"k":"r"},{"i":107,"v":-875,"k":"r"},{"i":108,"v":700,"k":"t"},{"i":109,"v":875,"k":"t"},{"i":110,"v":-1050,"k":"r"},{"i":111,"v":700,"k":"t"},{"i":112,"v":525,"k":"t"},{"i":113,"v":-525,"k":"r"},{"i":114,"v":700,"k":"t"},{"i":115,"v":-525,"k":"y"},{"i":116,"v":-525,"k":"r"},{"i":117,"v":-525,"k":"r"},{"i":118,"v":1050,"k":"t"},{"i":119,"v":1400,"k":"c"},{"i":120,"v":1575,"k":"t"},{"i":121,"v":1750,"k":"t"},{"i":122,"v":2275,"k":"t"},{"i":123,"v":-3150,"k":"r"},{"i":124,"v":-3150,"k":"r"},{"i":125,"v":-3150,"k":"r"},{"i":126,"v":-3150,"k":"r"},{"i":127,"v":1750,"k":"t"},{"i":128,"v":-3150,"k":"r"},{"i":129,"v":-1575,"k":"r"},{"i":130,"v":700,"k":"t"},{"i":131,"v":-875,"k":"r"},{"i":132,"v":-875,"k":"y"},{"i":133,"v":1050,"k":"t"},{"i":134,"v":-875,"k":"r"},{"i":135,"v":-875,"k":"r"},{"i":136,"v":-700,"k":"r"},{"i":137,"v":-1050,"k":"r"},{"i":138,"v":700,"k":"t"},{"i":139,"v":700,"k":"t"},{"i":140,"v":-525,"k":"r"},{"i":141,"v":525,"k":"t"},{"i":142,"v":-350,"k":"r"},{"i":143,"v":525,"k":"c"},{"i":144,"v":525,"k":"t"},{"i":145,"v":-875,"k":"r"},{"i":146,"v":525,"k":"t"},{"i":147,"v":-875,"k":"r"},{"i":148,"v":875,"k":"c"},{"i":149,"v":700,"k":"t"},{"i":150,"v":350,"k":"t"},{"i":151,"v":-350,"k":"r"},{"i":152,"v":-1225,"k":"r"},{"i":153,"v":-1400,"k":"r"},{"i":154,"v":-525,"k":"r"},{"i":155,"v":-700,"k":"r"},{"i":156,"v":525,"k":"c"},{"i":157,"v":-1400,"k":"r"},{"i":158,"v":525,"k":"t"},{"i":159,"v":525,"k":"t"},{"i":160,"v":700,"k":"t"},{"i":161,"v":875,"k":"t"},{"i":162,"v":-700,"k":"r"},{"i":163,"v":-525,"k":"r"},{"i":164,"v":-525,"k":"r"},{"i":165,"v":-525,"k":"r"},{"i":166,"v":-700,"k":"r"},{"i":167,"v":-525,"k":"r"},{"i":168,"v":-700,"k":"r"},{"i":169,"v":-525,"k":"r"},{"i":170,"v":-525,"k":"r"},{"i":171,"v":350,"k":"t"},{"i":172,"v":5600,"k":"t"},{"i":173,"v":4375,"k":"t"},{"i":174,"v":1575,"k":"t"},{"i":175,"v":-175,"k":"r"},{"i":176,"v":1575,"k":"t"},{"i":177,"v":-875,"k":"y"},{"i":178,"v":-4375,"k":"r"},{"i":179,"v":-6475,"k":"r"},{"i":180,"v":-2625,"k":"r"},{"i":181,"v":4900,"k":"t"},{"i":182,"v":-1925,"k":"y"},{"i":183,"v":3500,"k":"t"},{"i":184,"v":-1925,"k":"r"},{"i":185,"v":-1750,"k":"r"},{"i":186,"v":1225,"k":"t"},{"i":187,"v":-1925,"k":"r"},{"i":188,"v":-1925,"k":"r"},{"i":189,"v":-1400,"k":"r"},{"i":190,"v":2100,"k":"t"},{"i":191,"v":1400,"k":"t"},{"i":192,"v":1050,"k":"t"},{"i":193,"v":-1400,"k":"r"},{"i":194,"v":2275,"k":"c"},{"i":195,"v":-1400,"k":"y"},{"i":196,"v":-875,"k":"r"},{"i":197,"v":-875,"k":"r"},{"i":198,"v":-875,"k":"r"},{"i":199,"v":-525,"k":"r"},{"i":200,"v":350,"k":"t"},{"i":201,"v":875,"k":"t"},{"i":202,"v":-1400,"k":"r"},{"i":203,"v":875,"k":"c"},{"i":204,"v":700,"k":"t"},{"i":205,"v":700,"k":"t"},{"i":206,"v":525,"k":"c"},{"i":207,"v":350,"k":"c"},
{"i":208,"v":350,"k":"t"},{"i":209,"v":350,"k":"c"},{"i":210,"v":525,"k":"t"},{"i":211,"v":-350,"k":"r"},{"i":212,"v":350,"k":"t"},{"i":213,"v":-525,"k":"r"},{"i":214,"v":-350,"k":"r"},{"i":215,"v":-525,"k":"r"},{"i":216,"v":350,"k":"t"},{"i":217,"v":525,"k":"c"},{"i":218,"v":350,"k":"t"},{"i":219,"v":-350,"k":"r"},{"i":220,"v":-525,"k":"r"},{"i":221,"v":-525,"k":"r"},{"i":222,"v":350,"k":"t"},{"i":223,"v":350,"k":"t"},{"i":224,"v":350,"k":"c"},{"i":225,"v":-350,"k":"r"},{"i":226,"v":-700,"k":"r"},{"i":227,"v":525,"k":"t"},{"i":228,"v":525,"k":"c"},{"i":229,"v":525,"k":"t"},{"i":230,"v":350,"k":"t"},{"i":231,"v":525,"k":"t"},{"i":232,"v":-350,"k":"r"},{"i":233,"v":350,"k":"t"},{"i":234,"v":-525,"k":"r"},{"i":235,"v":-700,"k":"r"},{"i":236,"v":-525,"k":"r"},{"i":237,"v":350,"k":"t"},{"i":238,"v":525,"k":"t"},{"i":239,"v":525,"k":"t"},{"i":240,"v":350,"k":"t"},{"i":241,"v":700,"k":"t"},{"i":242,"v":-350,"k":"y"},{"i":243,"v":-700,"k":"r"},{"i":244,"v":525,"k":"t"},{"i":245,"v":350,"k":"t"},{"i":246,"v":525,"k":"t"},{"i":247,"v":-350,"k":"r"},{"i":248,"v":-350,"k":"r"},{"i":249,"v":350,"k":"t"},{"i":250,"v":-350,"k":"y"},{"i":251,"v":-525,"k":"r"},{"i":252,"v":525,"k":"t"},{"i":253,"v":350,"k":"t"},{"i":254,"v":-350,"k":"r"},{"i":255,"v":-350,"k":"r"},{"i":256,"v":-350,"k":"r"},{"i":257,"v":-350,"k":"r"},{"i":258,"v":350,"k":"c"},{"i":259,"v":525,"k":"t"},{"i":260,"v":-350,"k":"r"},{"i":261,"v":-350,"k":"r"},{"i":262,"v":350,"k":"t"},{"i":263,"v":-350,"k":"r"},{"i":264,"v":-350,"k":"r"},{"i":265,"v":875,"k":"t"},{"i":266,"v":700,"k":"t"},{"i":267,"v":-525,"k":"r"},{"i":268,"v":-350,"k":"r"},{"i":269,"v":-525,"k":"r"},{"i":270,"v":350,"k":"t"},{"i":271,"v":700,"k":"t"},{"i":272,"v":-350,"k":"r"},{"i":273,"v":525,"k":"t"},{"i":274,"v":350,"k":"t"},{"i":275,"v":525,"k":"c"},{"i":276,"v":-525,"k":"r"},{"i":277,"v":350,"k":"t"},{"i":278,"v":700,"k":"t"},{"i":279,"v":-350,"k":"r"},{"i":280,"v":-350,"k":"r"},{"i":281,"v":700,"k":"t"},{"i":282,"v":525,"k":"t"},{"i":283,"v":700,"k":"t"},{"i":284,"v":-525,"k":"r"},{"i":285,"v":525,"k":"c"},{"i":286,"v":-350,"k":"r"},{"i":287,"v":350,"k":"t"},{"i":288,"v":-350,"k":"r"},{"i":289,"v":-525,"k":"y"},{"i":290,"v":-350,"k":"y"},{"i":291,"v":350,"k":"t"},{"i":292,"v":-350,"k":"r"},{"i":293,"v":-350,"k":"y"},{"i":294,"v":350,"k":"t"},{"i":295,"v":350,"k":"t"},{"i":296,"v":350,"k":"t"},{"i":297,"v":350,"k":"c"},{"i":298,"v":525,"k":"t"},{"i":299,"v":525,"k":"c"},{"i":300,"v":350,"k":"t"},{"i":301,"v":-350,"k":"y"},{"i":302,"v":350,"k":"t"},{"i":303,"v":-350,"k":"r"},{"i":304,"v":525,"k":"t"},{"i":305,"v":-350,"k":"r"},{"i":306,"v":-350,"k":"r"},{"i":307,"v":-525,"k":"r"},{"i":308,"v":-350,"k":"r"},{"i":309,"v":350,"k":"t"},{"i":310,"v":350,"k":"t"},{"i":311,"v":-350,"k":"r"}],
"signal":[{"i":0,"v":-90},{"i":10,"v":-175},{"i":20,"v":350},{"i":25,"v":-525},{"i":35,"v":-700},{"i":45,"v":-175},{"i":55,"v":0},{"i":60,"v":525},{"i":63,"v":875},{"i":66,"v":0},{"i":72,"v":-525},{"i":78,"v":-875},{"i":85,"v":-525},{"i":92,"v":175},{"i":95,"v":0},{"i":103,"v":175},{"i":113,"v":525},{"i":122,"v":700},{"i":126,"v":-175},{"i":129,"v":-1225},{"i":131,"v":-1400},{"i":135,"v":-525},{"i":145,"v":-175},{"i":150,"v":-525},{"i":160,"v":-525},{"i":165,"v":-525},{"i":170,"v":-525},{"i":172,"v":0},{"i":176,"v":1050},{"i":180,"v":175},{"i":183,"v":-1050},{"i":186,"v":-1400},{"i":195,"v":-525},{"i":200,"v":0},{"i":207,"v":175},{"i":230,"v":0},{"i":311,"v":0}]
},
"resolve":{"scale":{"y":"independent"},"axis":{"y":"independent"}},
"layer":[
{"layer":[
{"data":{"values":[{"a":-0.95,"b":405.3,"lo":76814,"hi":81525}]},"mark":{"type":"rect","fill":"transparent","stroke":"#000000","strokeWidth":1},"encoding":{"x":{"field":"a","type":"quantitative","scale":{"domain":[-0.95,419.45],"nice":false,"zero":false},"axis":{"orient":"bottom","offset":-15,"tickCount":40,"values":[-1,15,31,47,63,79,95,111,127,143,159,175,191,207,223,239,255,271,287,303],"labelExpr":"['26 Aug 2026','27 Aug 01:30','27 Aug 05:30','27 Aug 09:30','27 Aug 13:30','27 Aug 17:30','27 Aug 21:30','28 Aug 01:30','28 Aug 05:30','28 Aug 09:30','28 Aug 13:30','28 Aug 18:00','28 Aug 22:00','29 Aug 02:00','29 Aug 06:00','29 Aug 10:00','29 Aug 15:00','29 Aug 19:00','29 Aug 23:00','30 Aug 03:00'][(datum.value+1)/16]","labelAlign":"left","labelPadding":2,"tickSize":3,"labelOverlap":false,"labelFlush":false,"labelBound":false}},"x2":{"field":"b"},"y":{"field":"lo","type":"quantitative","scale":{"domain":[76803,81527],"nice":false,"zero":false,"range":[637,0]},"axis":{"orient":"right","offset":-57,"tickCount":40,"values":[81326.8,81089.5,80852.2,80614.9,80377.6,80140.3,79903,79665.7,79428.4,79191.1,78953.8,78716.5,78479.2,78241.9,78004.6,77767.3,77530,77292.7,77055.4],"format":".2f","tickSize":3,"labelPadding":2,"labelOverlap":false}},"y2":{"field":"hi"}}},
{"data":{"values":[{"a":-0.95,"b":405.3,"p":78055.76},{"a":-0.95,"b":405.3,"p":78083.76}]},"mark":{"type":"rule","color":"#c0c0c0","strokeWidth":1},"encoding":{"x":{"field":"a","type":"quantitative"},"x2":{"field":"b"},"y":{"field":"p","type":"quantitative"}}},
{"data":{"name":"profile"},"mark":{"type":"rect"},"encoding":{"x":{"field":"x","type":"quantitative"},"x2":{"datum":405.3},"y":{"field":"p0","type":"quantitative"},"y2":{"field":"p1"},"fill":{"field":"vol","type":"quantitative","legend":null,"scale":{"domain":[1,12,25,35,45,57,65,75,80],"range":["#4aa3a0","#45b8b5","#3fdcdc","#3ff8f8","#48f4f4","#90e0b0","#c4e484","#e8e45c","#f4e83c"]}}}},
{"data":{"name":"highlights"},"transform":[{"filter":"datum.k==='y'"}],"mark":{"type":"bar","width":3,"orient":"vertical","color":"#ffff00"},"encoding":{"x":{"field":"i","type":"quantitative"},"y":{"field":"top","type":"quantitative"},"y2":{"field":"bot"}}},
{"data":{"name":"highlights"},"transform":[{"filter":"datum.k==='c'"}],"mark":{"type":"bar","width":3,"orient":"vertical","color":"#00f0f0"},"encoding":{"x":{"field":"i","type":"quantitative"},"y":{"field":"top","type":"quantitative"},"y2":{"field":"bot"}}},
{"data":{"name":"candles"},"mark":{"type":"rule","color":"#000000","strokeWidth":1},"encoding":{"x":{"field":"i","type":"quantitative"},"y":{"field":"l","type":"quantitative"},"y2":{"field":"h"}}},
{"data":{"name":"candles"},"mark":{"type":"bar","width":2,"orient":"vertical","stroke":"#000000","strokeWidth":1},"encoding":{"x":{"field":"i","type":"quantitative"},"y":{"field":"o","type":"quantitative"},"y2":{"field":"c"},"fill":{"condition":{"test":"datum.c>datum.o","value":"#ffffff"},"value":"#000000"}}},
{"data":{"name":"bands"},"transform":[{"filter":"datum.s==='mid'"}],"mark":{"type":"line","color":"#d81e92","strokeWidth":1.2},"encoding":{"x":{"field":"i","type":"quantitative"},"y":{"field":"p","type":"quantitative"}}},
{"data":{"name":"bands"},"transform":[{"filter":"datum.s!=='mid'"}],"mark":{"type":"line","color":"#000000","strokeWidth":2.2},"encoding":{"x":{"field":"i","type":"quantitative"},"y":{"field":"p","type":"quantitative"},"detail":{"field":"s"}}},
{"data":{"values":[{"i":10.7,"p":81441,"t":"BTCUSD, M15:  Bitcoin vs US Dollar"}]},"mark":{"type":"text","align":"left","baseline":"middle","font":"Liberation Sans","fontSize":10,"color":"#000000"},"encoding":{"x":{"field":"i","type":"quantitative"},"y":{"field":"p","type":"quantitative"},"text":{"field":"t"}}},
{"data":{"values":[{"i":-0.1,"p":81441,"t":"▤"},{"i":5.4,"p":81441,"t":"▤"}]},"mark":{"type":"text","align":"left","baseline":"middle","font":"DejaVu Sans","fontSize":10,"color":"#e8504a"},"encoding":{"x":{"field":"i","type":"quantitative"},"y":{"field":"p","type":"quantitative"},"text":{"field":"t"}}},
{"data":{"values":[{"i":1.6,"p":81441,"t":"▤"},{"i":7.1,"p":81441,"t":"▤"}]},"mark":{"type":"text","align":"left","baseline":"middle","font":"DejaVu Sans","fontSize":10,"color":"#2f86c8"},"encoding":{"x":{"field":"i","type":"quantitative"},"y":{"field":"p","type":"quantitative"},"text":{"field":"t"}}},
{"data":{"values":[{"i":310.6,"p":81512}]},"mark":{"type":"point","shape":"triangle-down","filled":true,"color":"#b4b4b4","size":30},"encoding":{"x":{"field":"i","type":"quantitative"},"y":{"field":"p","type":"quantitative"}}},
{"data":{"values":[{"a":405.9,"b":416.9,"hi":78123,"lo":78078}]},"mark":{"type":"rect","fill":"#c0c0c0"},"encoding":{"x":{"field":"a","type":"quantitative"},"x2":{"field":"b"},"y":{"field":"hi","type":"quantitative"},"y2":{"field":"lo"}}},
{"data":{"values":[{"a":406.4,"p":78100,"t":"78083.76"}]},"mark":{"type":"text","align":"left","baseline":"middle","font":"Liberation Sans","fontSize":9.5,"color":"#ffffff"},"encoding":{"x":{"field":"a","type":"quantitative"},"y":{"field":"p","type":"quantitative"},"text":{"field":"t"}}},
{"data":{"values":[{"a":405.9,"b":416.9,"hi":78078,"lo":78011}]},"mark":{"type":"rect","fill":"#c0c0c0"},"encoding":{"x":{"field":"a","type":"quantitative"},"x2":{"field":"b"},"y":{"field":"hi","type":"quantitative"},"y2":{"field":"lo"}}},
{"data":{"values":[{"a":406.4,"p":78052,"t":"78055.76"}]},"mark":{"type":"text","align":"left","baseline":"middle","font":"Liberation Sans","fontSize":9.5,"color":"#ffffff"},"encoding":{"x":{"field":"a","type":"quantitative"},"y":{"field":"p","type":"quantitative"},"text":{"field":"t"}}}
]},
{"layer":[
{"data":{"values":[{"a":-0.95,"b":405.3,"lo":-8050,"hi":6912}]},"mark":{"type":"rect","fill":"transparent","stroke":"#000000","strokeWidth":1},"encoding":{"x":{"field":"a","type":"quantitative"},"x2":{"field":"b"},"y":{"field":"lo","type":"quantitative","scale":{"domain":[-10675,7000],"nice":false,"zero":false,"range":[739,638]},"axis":{"orient":"right","offset":-57,"values":[6585,-7411],"format":"d","tickSize":3,"labelPadding":2,"labelOverlap":false}},"y2":{"field":"hi"}}},
{"data":{"name":"delta"},"transform":[{"filter":"datum.k==='t'"}],"mark":{"type":"bar","width":2,"orient":"vertical","color":"#0f8a82"},"encoding":{"x":{"field":"i","type":"quantitative"},"y":{"field":"v","type":"quantitative"}}},
{"data":{"name":"delta"},"transform":[{"filter":"datum.k==='c'"}],"mark":{"type":"bar","width":2,"orient":"vertical","color":"#00f0f5"},"encoding":{"x":{"field":"i","type":"quantitative"},"y":{"field":"v","type":"quantitative"}}},
{"data":{"name":"delta"},"transform":[{"filter":"datum.k==='y'"}],"mark":{"type":"bar","width":2,"orient":"vertical","color":"#ffff00"},"encoding":{"x":{"field":"i","type":"quantitative"},"y":{"field":"v","type":"quantitative"}}},
{"data":{"name":"delta"},"transform":[{"filter":"datum.k==='r'"}],"mark":{"type":"bar","width":2,"orient":"vertical","color":"#b22222"},"encoding":{"x":{"field":"i","type":"quantitative"},"y":{"field":"v","type":"quantitative"}}},
{"data":{"name":"signal"},"mark":{"type":"line","color":"#999999","strokeWidth":1,"strokeDash":[2,2]},"encoding":{"x":{"field":"i","type":"quantitative"},"y":{"field":"v","type":"quantitative"}}},
{"data":{"values":[{"i":-0.3,"v":5480,"t":"Frato Delta Pro -460 -198"}]},"mark":{"type":"text","align":"left","baseline":"middle","font":"Liberation Sans","fontSize":10,"color":"#000000"},"encoding":{"x":{"field":"i","type":"quantitative"},"y":{"field":"v","type":"quantitative"},"text":{"field":"t"}}}
]}
]}
